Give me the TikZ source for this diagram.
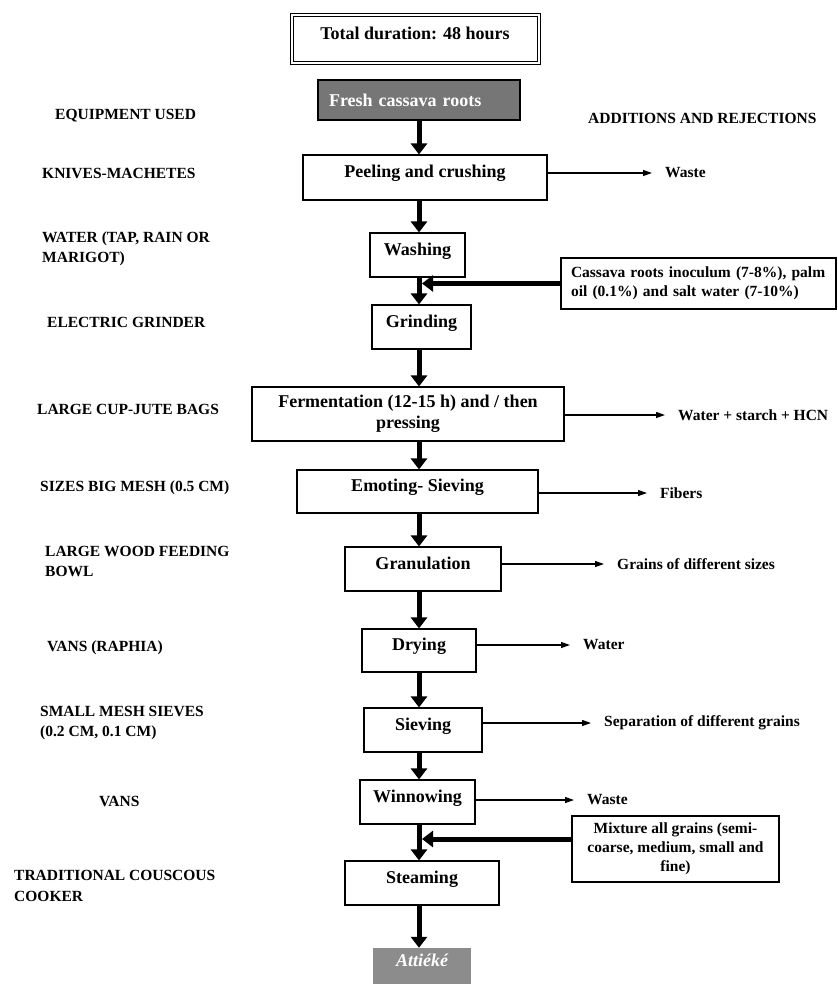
\documentclass[tikz,border=0pt]{standalone}
\usepackage{fontspec}
\setmainfont{Liberation Serif}
\usetikzlibrary{arrows.meta}
\definecolor{rootgray}{RGB}{118,118,118}
\definecolor{endgray}{RGB}{140,140,140}

\begin{document}
\begin{tikzpicture}[
        x=1pt, y=-1pt,
        font=\fontsize{18}{21}\selectfont\bfseries,
        stage/.style={draw, line width=1.1pt, inner xsep=3pt, inner ysep=0pt, text height=12pt, text depth=12pt},
        addbox/.style={draw, line width=1.1pt, font=\fontsize{15.5}{19}\selectfont\bfseries},
        tool/.style={anchor=west, align=left, inner sep=0pt, font=\fontsize{15.5}{20.5}\selectfont\bfseries},
        waste/.style={anchor=west, inner sep=0pt, font=\fontsize{15.5}{19}\selectfont\bfseries},
        flow/.style={line width=5pt, -{Triangle[length=11pt,width=16pt]}},
        reject/.style={line width=1.2pt, shorten >=13pt, -{Triangle[length=9pt,width=6pt]}}
    ]
    \useasboundingbox (0,0) rectangle (837,984);
    \coordinate (spine) at (419,0); \coordinate (spineR) at (422,0);

    % Process steps
    \node[stage, double, double distance=2pt, line width=1pt, minimum width=247pt, minimum height=48pt] (dur) at (415,39.5) {Total duration: 48 hours};
    \node[draw, line width=1.1pt, fill=rootgray, text=white, minimum height=40pt, text width=180pt, align=left, inner xsep=11pt] (fresh) at (419,100) {Fresh cassava roots};
    \node[stage, minimum width=244pt, minimum height=45pt] (peel) at (425,177.5) {Peeling and crushing};
    \node[stage, minimum width=95pt, minimum height=44pt] (wash) at (417.5,255) {Washing};
    \node[stage, minimum width=99pt, minimum height=44pt] (grind) at (421.5,327) {Grinding};
    \node[draw, line width=1.1pt, align=center, minimum width=312pt, minimum height=54pt] (ferm) at (408,414) {Fermentation (12-15 h) and / then\\pressing};
    \node[stage, minimum width=241pt, minimum height=43pt] (emot) at (417.5,491.5) {Emoting- Sieving};
    \node[stage, minimum width=156pt, minimum height=44pt] (gran) at (423,569) {Granulation};
    \node[stage, minimum width=114pt, minimum height=43pt] (dry) at (419,650.5) {Drying};
    \node[stage, minimum width=118pt, minimum height=44pt] (siev) at (423,730) {Sieving};
    \node[stage, minimum width=115pt, minimum height=44pt] (winn) at (417.5,802) {Winnowing};
    \node[stage, minimum width=154pt, minimum height=44pt] (steam) at (422,883) {Steaming};
    \node[fill=endgray, text=white, font=\fontsize{18}{21}\selectfont\bfseries\itshape, inner sep=0pt, text height=12pt, text depth=12pt, minimum width=98pt, minimum height=36pt] (att) at (422,966) {Attiéké};

    % Main flow
    \draw[flow] (fresh.south -| spine) -- (peel.north -| spine); \draw[flow] (peel.south -| spine) -- (wash.north -| spine);
    \draw[flow] (wash.south -| spine) -- (grind.north -| spine); \draw[flow] (grind.south -| spine) -- (ferm.north -| spine);
    \draw[flow] (ferm.south -| spine) -- (emot.north -| spine); \draw[flow] (emot.south -| spine) -- (gran.north -| spine);
    \draw[flow] (gran.south -| spine) -- (dry.north -| spine); \draw[flow] (dry.south -| spine) -- (siev.north -| spine);
    \draw[flow] (siev.south -| spine) -- (winn.north -| spine); \draw[flow] (winn.south -| spine) -- (steam.north -| spine);
    \draw[flow] (steam.south -| spine) -- (att.north -| spine);

    % Additions
    \node[addbox, text width=255pt, align=left, inner xsep=10pt, minimum height=51pt] (inoc) at (698.5,283.5) {Cassava roots inoculum (7-8\%), palm\\oil (0.1\%) and salt water (7-10\%)};
    \node[addbox, align=center, minimum width=207pt, minimum height=66pt] (mix) at (675.5,849) {Mixture all grains (semi-\\coarse, medium, small and\\fine)};
    \coordinate (mixin) at ([yshift=10pt]mix.west);
    \draw[flow] (inoc.west) -- (spineR |- inoc.west); \draw[flow] (mixin) -- (spineR |- mixin);

    % Rejections
    \node[waste] (wasteA) at (665,173) {Waste}; \node[waste] (hcn) at (678,415) {Water + starch + HCN};
    \node[waste] (fibers) at (660,493) {Fibers}; \node[waste] (grains) at (617,564) {Grains of different sizes};
    \node[waste] (water) at (583,645) {Water}; \node[waste] (separ) at (604,723) {Separation of different grains};
    \node[waste] (wasteB) at (587,800) {Waste};
    \draw[reject] (wasteA.west -| peel.east) -- (wasteA.west); \draw[reject] (hcn.west -| ferm.east) -- (hcn.west);
    \draw[reject] (fibers.west -| emot.east) -- (fibers.west); \draw[reject] (grains.west -| gran.east) -- (grains.west);
    \draw[reject] (water.west -| dry.east) -- (water.west); \draw[reject] (separ.west -| siev.east) -- (separ.west);
    \draw[reject] (wasteB.west -| winn.east) -- (wasteB.west);

    % Equipment column
    \node[tool] (tEquip) at (55,116) {EQUIPMENT USED}; \node[tool] (addRej) at (588,118) {ADDITIONS AND REJECTIONS};
    \node[tool] (tKnife) at (42,173) {KNIVES-MACHETES};
    \node[tool] (tWater) at (42,249) {WATER (TAP, RAIN OR\\MARIGOT)};
    \node[tool] (tGrind) at (47,322) {ELECTRIC GRINDER};
    \node[tool] (tBags) at (37,409) {LARGE CUP-JUTE BAGS};
    \node[tool] (tMesh) at (40,488) {SIZES BIG MESH (0.5 CM)};
    \node[tool] (tBowl) at (45,561.5) {LARGE WOOD FEEDING\\BOWL};
    \node[tool] (tVans) at (47,648) {VANS (RAPHIA)};
    \node[tool] (tSieve) at (40,723) {SMALL MESH SIEVES\\(0.2 CM, 0.1 CM)};
    \node[tool] (tWinn) at (99,801) {VANS};
    \node[tool] (tCook) at (14,886) {TRADITIONAL COUSCOUS\\COOKER};

\end{tikzpicture}
\end{document}
